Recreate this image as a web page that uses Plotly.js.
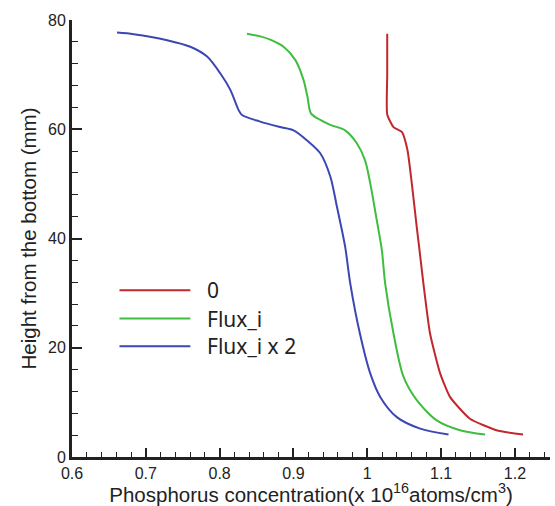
<!DOCTYPE html>
<html>
<head>
<meta charset="utf-8">
<script src="https://cdn.plot.ly/plotly-3.0.1.min.js"></script>
<style>html,body{margin:0;padding:0;background:#fff}#chart{width:555px;height:506px}</style>
</head>
<body>
<div id="chart"></div>
<script>
// Series names
const seriesNames = ["0", "Flux_i", "Flux_i x 2"];
const seriesColors = ["#c0282e", "#3fbd3f", "#3b47b2"];

// Red: "0"
const x0 = [1.027, 1.027, 1.027, 1.0355, 1.0468, 1.0544, 1.0603, 1.067, 1.0707, 1.076, 1.085, 1.0987, 1.112, 1.139, 1.175, 1.211];
const y0 = [77.5, 70.0, 62.7, 60.4, 59.5, 56.2, 50.1, 42.1, 37.9, 31.8, 22.6, 15.3, 11.0, 7.0, 4.9, 4.1];

// Green: "Flux_i"
const x1 = [0.837, 0.855, 0.8686, 0.8866, 0.9024, 0.9137, 0.919, 0.9237, 0.9363, 0.9498, 0.970, 0.986, 0.997, 1.004, 1.012, 1.0197, 1.0242, 1.0355, 1.049, 1.067, 1.094, 1.1257, 1.1596];
const y1 = [77.5, 77.0, 76.4, 75.1, 72.7, 69.0, 65.9, 62.9, 61.7, 60.8, 59.8, 57.4, 54.3, 50.1, 44.0, 37.9, 31.8, 22.6, 14.7, 10.4, 6.7, 4.9, 4.1];

// Blue: "Flux_i x 2"
const x2 = [0.661, 0.6836, 0.7288, 0.7603, 0.783, 0.801, 0.8145, 0.8257, 0.8303, 0.855, 0.8821, 0.9001, 0.918, 0.9363, 0.950, 0.9589, 0.970, 0.9769, 0.990, 1.004, 1.0175, 1.040, 1.0716, 1.110];
const y2 = [77.7, 77.4, 76.3, 75.1, 73.3, 70.2, 67.2, 63.5, 62.6, 61.4, 60.4, 59.8, 58.0, 55.6, 51.3, 45.8, 38.5, 31.8, 22.6, 15.3, 11.0, 7.3, 5.2, 4.1];

const xs = [x0, x1, x2];
const ys = [y0, y1, y2];
const smooth = [0.5, 0.8, 0.8];

const traces = xs.map((x, i) => ({
  x: x, y: ys[i], type: "scatter", mode: "lines", name: seriesNames[i],
  line: {color: seriesColors[i], width: 2, shape: "spline", smoothing: smooth[i]},
  showlegend: false, hoverinfo: "skip"
}));

// Manual legend (layout only)
const legY = [0.3817, 0.3169, 0.2535];
const shapes = [];
const annotations = [];
seriesNames.forEach((n, i) => {
  shapes.push({type: "line", xref: "paper", yref: "paper", x0: 0.0993, x1: 0.2476, y0: legY[i], y1: legY[i],
    line: {color: seriesColors[i], width: 2}});
  annotations.push({xref: "paper", yref: "paper", x: 0.279, y: legY[i], xanchor: "left", yanchor: "middle",
    text: n, showarrow: false, font: {family: "Noto Sans, sans-serif", size: 21, color: "#222"}});
});

const tickFont = {family: "Liberation Sans, Arial, sans-serif", size: 16, color: "#222"};
const titleFont = {family: "Liberation Sans, Arial, sans-serif", size: 20.5, color: "#222"};

const layout = {
  width: 555, height: 506,
  margin: {l: 71.5, r: 5, t: 20, b: 49.3},
  paper_bgcolor: "#fff", plot_bgcolor: "#fff",
  showlegend: false,
  xaxis: {
    range: [0.6, 1.2475], tickvals: [0.6, 0.7, 0.8, 0.9, 1.0, 1.1, 1.2],
    ticktext: ["0.6", "0.7", "0.8", "0.9", "1", "1.1", "1.2"],
    ticks: "inside", ticklen: 9, tickwidth: 2, tickcolor: "#222",
    minor: {dtick: 0.02, tick0: 0.6, ticks: "inside", ticklen: 5, tickwidth: 1, tickcolor: "#222", showgrid: false},
    showline: true, linecolor: "#222", linewidth: 3, showgrid: false, zeroline: false,
    tickfont: tickFont,
    title: {text: "Phosphorus concentration(x 10<sup>16</sup>atoms/cm<sup>3</sup>)", font: titleFont, standoff: 4}
  },
  yaxis: {
    range: [0, 80], tickvals: [0, 20, 40, 60, 80],
    ticks: "inside", ticklen: 10, tickwidth: 2, tickcolor: "#222",
    minor: {dtick: 4, tick0: 0, ticks: "inside", ticklen: 6, tickwidth: 1, tickcolor: "#222", showgrid: false},
    showline: true, linecolor: "#222", linewidth: 3, showgrid: false, zeroline: false,
    tickfont: tickFont,
    title: {text: "Height from the bottom (mm)", font: titleFont, standoff: 6}
  },
  shapes: shapes,
  annotations: annotations
};

Plotly.newPlot("chart", traces, layout, {staticPlot: true, displayModeBar: false});
</script>
</body>
</html>
